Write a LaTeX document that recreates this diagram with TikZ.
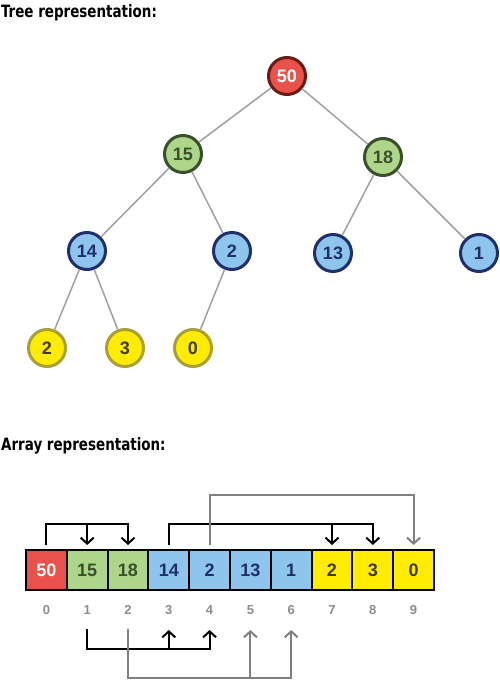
\documentclass[tikz,border=0pt]{standalone}
\usepackage{fontspec}
\setmainfont{Liberation Sans}
\newfontfamily\handfont{DejaVu Sans Condensed}
\usepackage{xcolor}
\usepackage{tikz}
\usetikzlibrary{arrows.meta,positioning}

\definecolor{heapred}{HTML}{E8524A}
\definecolor{redline}{HTML}{6B1A14}
\definecolor{heapgreen}{HTML}{AED68A}
\definecolor{greenline}{HTML}{3A4F2A}
\definecolor{heapblue}{HTML}{8EC5EC}
\definecolor{blueline}{HTML}{1F2F6B}
\definecolor{heapyellow}{HTML}{FFEC00}
\definecolor{yellowline}{HTML}{A9A030}
\definecolor{yellowtext}{HTML}{3E3A1A}
\definecolor{edgegray}{HTML}{A0A0A0}
\definecolor{idxgray}{HTML}{8C8C8C}
\definecolor{linkgray}{HTML}{808080}

\tikzset{
  treenode/.style={circle, minimum size=37pt, inner sep=0pt, line width=3pt, font=\bfseries\fontsize{18}{18}\selectfont},
  rednode/.style={treenode, draw=redline, fill=heapred, text=white},
  greennode/.style={treenode, draw=greenline, fill=heapgreen, text=greenline},
  bluenode/.style={treenode, draw=blueline, fill=heapblue, text=blueline},
  yellownode/.style={treenode, draw=yellowline, fill=heapyellow, text=yellowtext},
  tedge/.style={draw=edgegray, line width=1.5pt},
  cell/.style={rectangle, draw=black, line width=2pt, minimum width=40.8pt, minimum height=40pt, inner sep=0pt, outer sep=0pt, font=\bfseries\fontsize{18}{18}\selectfont},
  idx/.style={text=idxgray, font=\bfseries\fontsize{13}{13}\selectfont},
  link/.style={line width=2pt, -{Straight Barb[length=6pt,width=13pt]}},
  heading/.style={anchor=west, inner sep=0pt, xscale=0.88, transform shape, font=\handfont\bfseries\fontsize{17}{17}\selectfont},
}

\begin{document}
\begin{tikzpicture}[x=1pt, y=1pt]
  \useasboundingbox (0,0) rectangle (500,686);

  % headings
  \node[heading] (ttree) at (1,673) {Tree representation:};
  \node[heading] (tarray) at (1,240) {Array representation:};

  % tree
  \node[rednode] (n50) at (287,610) {50};
  \node[greennode] (n15) at (183,532) {15};
  \node[greennode] (n18) at (383,529) {18};
  \node[bluenode] (n14) at (87,435) {14};
  \node[bluenode] (n2) at (232,435) {2};
  \node[bluenode] (n13) at (333,433) {13};
  \node[bluenode] (n1) at (479,433) {1};
  \node[yellownode] (l2) at (47,338) {2};
  \node[yellownode] (l3) at (125,338) {3};
  \node[yellownode] (l0) at (193,338) {0};

  \draw[tedge] (n50) -- (n15);
  \draw[tedge] (n50) -- (n18);
  \draw[tedge] (n15) -- (n14);
  \draw[tedge] (n15) -- (n2);
  \draw[tedge] (n18) -- (n13);
  \draw[tedge] (n18) -- (n1);
  \draw[tedge] (n14) -- (l2);
  \draw[tedge] (n14) -- (l3);
  \draw[tedge] (n2) -- (l0);

  % array
  \node[cell, fill=heapred, text=white] (c0) at (46.4,116) {50};
  \node[cell, fill=heapgreen, text=greenline, right=0pt of c0] (c1) {15};
  \node[cell, fill=heapgreen, text=greenline, right=0pt of c1] (c2) {18};
  \node[cell, fill=heapblue, text=blueline, right=0pt of c2] (c3) {14};
  \node[cell, fill=heapblue, text=blueline, right=0pt of c3] (c4) {2};
  \node[cell, fill=heapblue, text=blueline, right=0pt of c4] (c5) {13};
  \node[cell, fill=heapblue, text=blueline, right=0pt of c5] (c6) {1};
  \node[cell, fill=heapyellow, text=yellowtext, right=0pt of c6] (c7) {2};
  \node[cell, fill=heapyellow, text=yellowtext, right=0pt of c7] (c8) {3};
  \node[cell, fill=heapyellow, text=yellowtext, right=0pt of c8] (c9) {0};

  \foreach \i in {0,...,9}
    \node[idx, below=12pt of c\i] (i\i) {\i};

  % children links above
  \coordinate (up1) at ([yshift=26pt]c0.north);
  \coordinate (up2) at ([yshift=26pt]c3.north);
  \coordinate (up3) at ([yshift=55pt]c4.north);
  \draw[link] ([yshift=5pt]c0.north) -- (up1) -| ([yshift=5pt]c2.north);
  \draw[link] (up1 -| c1.north) -- ([yshift=5pt]c1.north);
  \draw[link] ([yshift=5pt]c3.north) -- (up2) -| ([yshift=5pt]c8.north);
  \draw[link] (up2 -| c7.north) -- ([yshift=5pt]c7.north);
  \draw[link, linkgray] ([yshift=5pt]c4.north) -- (up3) -| ([yshift=5pt]c9.north);

  % children links below
  \coordinate (dn1) at ([yshift=-59pt]c1.south);
  \coordinate (dn2) at ([yshift=-88pt]c2.south);
  \draw[link] ([yshift=-39pt]c1.south) -- (dn1) -| ([yshift=-40pt]c4.south);
  \draw[link] (dn1 -| c3.south) -- ([yshift=-40pt]c3.south);
  \draw[link, linkgray] ([yshift=-39pt]c2.south) -- (dn2) -| ([yshift=-40pt]c6.south);
  \draw[link, linkgray] (dn2 -| c5.south) -- ([yshift=-40pt]c5.south);
\end{tikzpicture}
\end{document}
